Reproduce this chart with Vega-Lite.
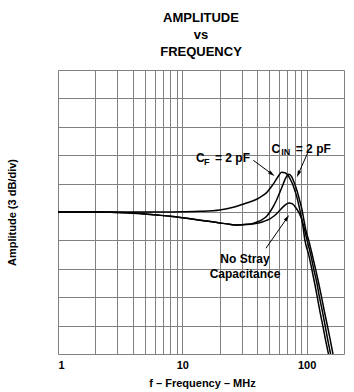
{
  "$schema": "https://vega.github.io/schema/vega-lite/v6.json",
  "width": 286,
  "height": 284,
  "autosize": {"type": "none"},
  "padding": {"left": 58, "top": 70, "right": 10, "bottom": 38},
  "background": "white",
  "config": {"view": {"stroke": null}, "font": "Liberation Sans"},
  "title": {
    "text": ["AMPLITUDE", "vs", "FREQUENCY"],
    "font": "Liberation Sans",
    "fontSize": 13,
    "fontWeight": "bold",
    "color": "black",
    "lineHeight": 17,
    "anchor": "middle",
    "offset": 11
  },
  "datasets": {
    "curves": [
      {"s": "CF", "f": 1, "db": 0}, {"s": "CF", "f": 2, "db": 0}, {"s": "CF", "f": 3, "db": 0}, {"s": "CF", "f": 5, "db": 0}, {"s": "CF", "f": 7, "db": 0},
      {"s": "CF", "f": 10, "db": 0.02}, {"s": "CF", "f": 14, "db": 0.07}, {"s": "CF", "f": 20, "db": 0.22}, {"s": "CF", "f": 25.7, "db": 0.5},
      {"s": "CF", "f": 32, "db": 0.9}, {"s": "CF", "f": 39.7, "db": 1.35}, {"s": "CF", "f": 44, "db": 1.7}, {"s": "CF", "f": 47.7, "db": 2.05},
      {"s": "CF", "f": 51, "db": 2.5}, {"s": "CF", "f": 55.6, "db": 3.2}, {"s": "CF", "f": 59, "db": 3.75}, {"s": "CF", "f": 63, "db": 4.2},
      {"s": "CF", "f": 67, "db": 4.15}, {"s": "CF", "f": 71, "db": 3.85}, {"s": "CF", "f": 75, "db": 3.3}, {"s": "CF", "f": 79, "db": 2.6},
      {"s": "CF", "f": 83, "db": 1.7}, {"s": "CF", "f": 87, "db": 0.6}, {"s": "CF", "f": 90, "db": -0.3}, {"s": "CF", "f": 93, "db": -1.3},
      {"s": "CF", "f": 97, "db": -3}, {"s": "CF", "f": 104, "db": -4.5}, {"s": "CF", "f": 110, "db": -6}, {"s": "CF", "f": 116, "db": -7.5},
      {"s": "CF", "f": 122, "db": -9}, {"s": "CF", "f": 128, "db": -10.5}, {"s": "CF", "f": 135, "db": -12}, {"s": "CF", "f": 142, "db": -13.5},
      {"s": "CF", "f": 150, "db": -15},

      {"s": "CIN", "f": 1, "db": 0}, {"s": "CIN", "f": 2, "db": 0}, {"s": "CIN", "f": 3, "db": -0.05}, {"s": "CIN", "f": 5, "db": -0.2},
      {"s": "CIN", "f": 6, "db": -0.3}, {"s": "CIN", "f": 8, "db": -0.45}, {"s": "CIN", "f": 10, "db": -0.6}, {"s": "CIN", "f": 15.7, "db": -0.95},
      {"s": "CIN", "f": 20, "db": -1.15}, {"s": "CIN", "f": 24, "db": -1.3}, {"s": "CIN", "f": 28, "db": -1.37}, {"s": "CIN", "f": 33, "db": -1.3},
      {"s": "CIN", "f": 37, "db": -1.2}, {"s": "CIN", "f": 40, "db": -1.05}, {"s": "CIN", "f": 44, "db": -0.8}, {"s": "CIN", "f": 47.7, "db": -0.45},
      {"s": "CIN", "f": 51, "db": 0.05}, {"s": "CIN", "f": 54, "db": 0.6}, {"s": "CIN", "f": 57.5, "db": 1.3}, {"s": "CIN", "f": 61, "db": 2.1},
      {"s": "CIN", "f": 65, "db": 3.0}, {"s": "CIN", "f": 68, "db": 3.6}, {"s": "CIN", "f": 72, "db": 4.0}, {"s": "CIN", "f": 76, "db": 3.7},
      {"s": "CIN", "f": 80, "db": 3.0}, {"s": "CIN", "f": 84, "db": 2.2}, {"s": "CIN", "f": 88, "db": 1.2}, {"s": "CIN", "f": 92, "db": 0.2},
      {"s": "CIN", "f": 95, "db": -0.8}, {"s": "CIN", "f": 99, "db": -2.0}, {"s": "CIN", "f": 104, "db": -3}, {"s": "CIN", "f": 111, "db": -4.5},
      {"s": "CIN", "f": 118, "db": -6}, {"s": "CIN", "f": 125, "db": -7.5}, {"s": "CIN", "f": 132, "db": -9}, {"s": "CIN", "f": 139, "db": -10.5},
      {"s": "CIN", "f": 147, "db": -12}, {"s": "CIN", "f": 155, "db": -13.5}, {"s": "CIN", "f": 163, "db": -15},

      {"s": "NS", "f": 1, "db": 0}, {"s": "NS", "f": 2, "db": 0}, {"s": "NS", "f": 3, "db": -0.05}, {"s": "NS", "f": 5, "db": -0.2},
      {"s": "NS", "f": 6, "db": -0.3}, {"s": "NS", "f": 8, "db": -0.45}, {"s": "NS", "f": 10, "db": -0.6}, {"s": "NS", "f": 15.7, "db": -0.95},
      {"s": "NS", "f": 20, "db": -1.15}, {"s": "NS", "f": 24, "db": -1.3}, {"s": "NS", "f": 28, "db": -1.37}, {"s": "NS", "f": 33, "db": -1.33},
      {"s": "NS", "f": 37, "db": -1.27}, {"s": "NS", "f": 40, "db": -1.2}, {"s": "NS", "f": 44, "db": -1.05}, {"s": "NS", "f": 47.7, "db": -0.88},
      {"s": "NS", "f": 51, "db": -0.7}, {"s": "NS", "f": 55, "db": -0.4}, {"s": "NS", "f": 61, "db": 0.18}, {"s": "NS", "f": 66, "db": 0.65},
      {"s": "NS", "f": 72, "db": 0.95}, {"s": "NS", "f": 77, "db": 0.85}, {"s": "NS", "f": 82, "db": 0.45}, {"s": "NS", "f": 87, "db": -0.1},
      {"s": "NS", "f": 91, "db": -0.7}, {"s": "NS", "f": 96, "db": -1.8}, {"s": "NS", "f": 101, "db": -3}, {"s": "NS", "f": 108, "db": -4.5},
      {"s": "NS", "f": 114, "db": -6}, {"s": "NS", "f": 121, "db": -7.5}, {"s": "NS", "f": 127, "db": -9}, {"s": "NS", "f": 134, "db": -10.5},
      {"s": "NS", "f": 141, "db": -12}, {"s": "NS", "f": 148, "db": -13.5}, {"s": "NS", "f": 156, "db": -15}
    ],
    "labels": [
      {"t": "C", "f": 13.96, "db": 5.67},
      {"t": "= 2 pF", "f": 25.34, "db": 5.67},
      {"t": "C", "f": 56.5, "db": 6.7},
      {"t": "= 2 pF", "f": 113.2, "db": 6.7},
      {"t": "No Stray", "f": 31.95, "db": -5.0},
      {"t": "Capacitance", "f": 31.95, "db": -6.6}
    ],
    "subs": [
      {"t": "F", "f": 15.72, "db": 5.25},
      {"t": "IN", "f": 68.0, "db": 6.31}
    ],
    "arrows": [
      {"f": 37.25, "db": 5.46, "f2": 51.7, "db2": 4.09},
      {"f": 101.7, "db": 6.2, "f2": 86.4, "db2": 4.11},
      {"f": 47.1, "db": -3.83, "f2": 69.0, "db2": -0.71}
    ]
  },
  "encoding": {
    "x": {
      "field": "f", "type": "quantitative",
      "scale": {"type": "log", "domain": [1, 200]},
      "axis": {
        "values": [1, 2, 3, 4, 5, 6, 7, 8, 9, 10, 20, 30, 40, 50, 60, 70, 80, 90, 100, 200],
        "format": "d",
        "labelExpr": "(datum.value == 1 || datum.value == 10 || datum.value == 100) ? datum.label : ''",
        "grid": true, "gridColor": "#808080", "gridWidth": 1, "gridOpacity": 1,
        "ticks": false, "domain": false,
        "labelOverlap": false, "labelFlush": true,
        "labelFont": "Liberation Sans", "labelFontSize": 11, "labelFontWeight": "bold", "labelColor": "black",
        "labelPadding": 5,
        "title": "f – Frequency – MHz",
        "titleFont": "Liberation Sans", "titleFontSize": 11, "titleFontWeight": "bold", "titleColor": "black",
        "titleX": 144, "titleY": 29, "titleBaseline": "middle", "titleAlign": "center"
      }
    },
    "y": {
      "field": "db", "type": "quantitative",
      "scale": {"domain": [-15, 15]},
      "axis": {
        "values": [-15, -12, -9, -6, -3, 0, 3, 6, 9, 12, 15],
        "grid": true, "gridColor": "#808080", "gridWidth": 1, "gridOpacity": 1,
        "labels": false, "ticks": false, "domain": false,
        "title": "Amplitude (3 dB/div)",
        "titleFont": "Liberation Sans", "titleFontSize": 11, "titleFontWeight": "bold", "titleColor": "black",
        "titleX": -46, "titleY": 142, "titleAngle": -90, "titleAlign": "center", "titleBaseline": "middle"
      }
    }
  },
  "layer": [
    {
      "data": {"name": "curves"},
      "mark": {"type": "line", "color": "black", "strokeWidth": 1.5, "interpolate": "monotone", "clip": true},
      "encoding": {"detail": {"field": "s"}}
    },
    {
      "data": {"name": "arrows"},
      "mark": {"type": "rule", "color": "black", "strokeWidth": 1},
      "encoding": {"x2": {"field": "f2"}, "y2": {"field": "db2"}}
    },
    {
      "data": {"values": [{"f": 51.7, "db": 4.09}]},
      "mark": {"type": "point", "shape": "M0,-1L0.4,0.5L-0.4,0.5Z", "size": 81, "filled": true, "color": "black", "opacity": 1, "angle": 126}
    },
    {
      "data": {"values": [{"f": 86.4, "db": 4.11}]},
      "mark": {"type": "point", "shape": "M0,-1L0.4,0.5L-0.4,0.5Z", "size": 81, "filled": true, "color": "black", "opacity": 1, "angle": 204}
    },
    {
      "data": {"values": [{"f": 69.0, "db": -0.71}]},
      "mark": {"type": "point", "shape": "M0,-1L0.4,0.5L-0.4,0.5Z", "size": 81, "filled": true, "color": "black", "opacity": 1, "angle": 35}
    },
    {
      "data": {"name": "labels"},
      "mark": {"type": "text", "font": "Liberation Sans", "fontSize": 12, "fontWeight": "bold", "color": "black", "align": "center", "baseline": "middle"},
      "encoding": {"text": {"field": "t"}}
    },
    {
      "data": {"name": "subs"},
      "mark": {"type": "text", "font": "Liberation Sans", "fontSize": 9, "fontWeight": "bold", "color": "black", "align": "center", "baseline": "middle"},
      "encoding": {"text": {"field": "t"}}
    },
    {
      "data": {"values": [{}]},
      "mark": {"type": "rect", "fillOpacity": 0, "stroke": "black", "strokeWidth": 1.5},
      "encoding": {
        "x": {"datum": 1, "type": "quantitative"},
        "x2": {"datum": 200},
        "y": {"datum": -15, "type": "quantitative"},
        "y2": {"datum": 15}
      }
    }
  ]
}
